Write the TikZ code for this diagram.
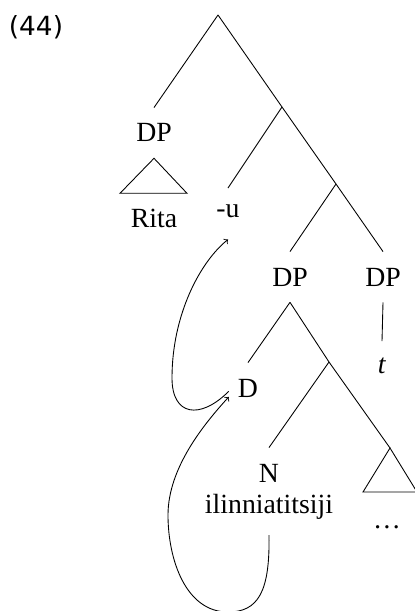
\documentclass[tikz,border=0pt]{standalone}
\usepackage{fontspec}
\setmainfont{Liberation Serif}
\newfontfamily\exfont[Scale=1.5]{DejaVu Sans}
\begin{document}
\begin{tikzpicture}[x=0.02cm,y=-0.02cm,>=to,line width=0.5pt,
	lab/.style={anchor=base,inner xsep=5pt,inner ysep=9pt,font=\fontsize{15.8}{19}\selectfont}]
	\useasboundingbox (0,0) rectangle (414,611);
	\node[font=\exfont] (ex) at (36,27) {(44)};
	\coordinate (root) at (218,15);
	\coordinate (vp) at (282,107);
	\coordinate (vbar) at (336,184);
	\coordinate (np) at (329,362);
	\coordinate (tri) at (390,448);
	\node[lab] (dpsubj) at (154,142) {DP};
	\node[lab] (rita) at (154,227) {Rita};
	\node[lab] (u) at (228,217) {-u};
	\node[lab] (dpobj) at (290,286) {DP};
	\node[lab] (dptr) at (383,286) {DP};
	\node[lab] (t) at (382,373) {\textit{t}};
	\node[lab] (d) at (248,397) {D};
	\node[lab] (n) at (269,482) {N};
	\node[lab] (noun) at (269,513) {ilinniatitsiji};
	\node[lab] (dots) at (387,528) {\dots};
	\draw (root) -- (dpsubj.north);
	\draw (root) -- (vp) -- (vbar) -- (dptr.north);
	\draw (vp) -- (u.north);
	\draw (vbar) -- (dpobj.north);
	\draw (dptr.south) -- (t.north);
	\draw (dpobj.south) -- (d.north);
	\draw (dpobj.south) -- (np) -- (tri);
	\draw (np) -- (n.north);
	\draw (dpsubj.south) -- ++(-34,35) -- ++(67,0) -- cycle;
	\draw (tri) -- ++(-27,44) -- ++(54,0) -- cycle;
	% movement arrows
	\draw[->] (d.190) .. controls (200,420) and (172,416) .. (172,378)
		.. controls (172,315) and (200,262) .. ([yshift=-3.4pt]u.south);
	\draw[->] (noun.south) .. controls (270,592) and (258,612) .. (228,612)
		.. controls (186,612) and (168,560) .. (168,515)
		.. controls (168,468) and (204,424) .. (d.205);
\end{tikzpicture}
\end{document}
